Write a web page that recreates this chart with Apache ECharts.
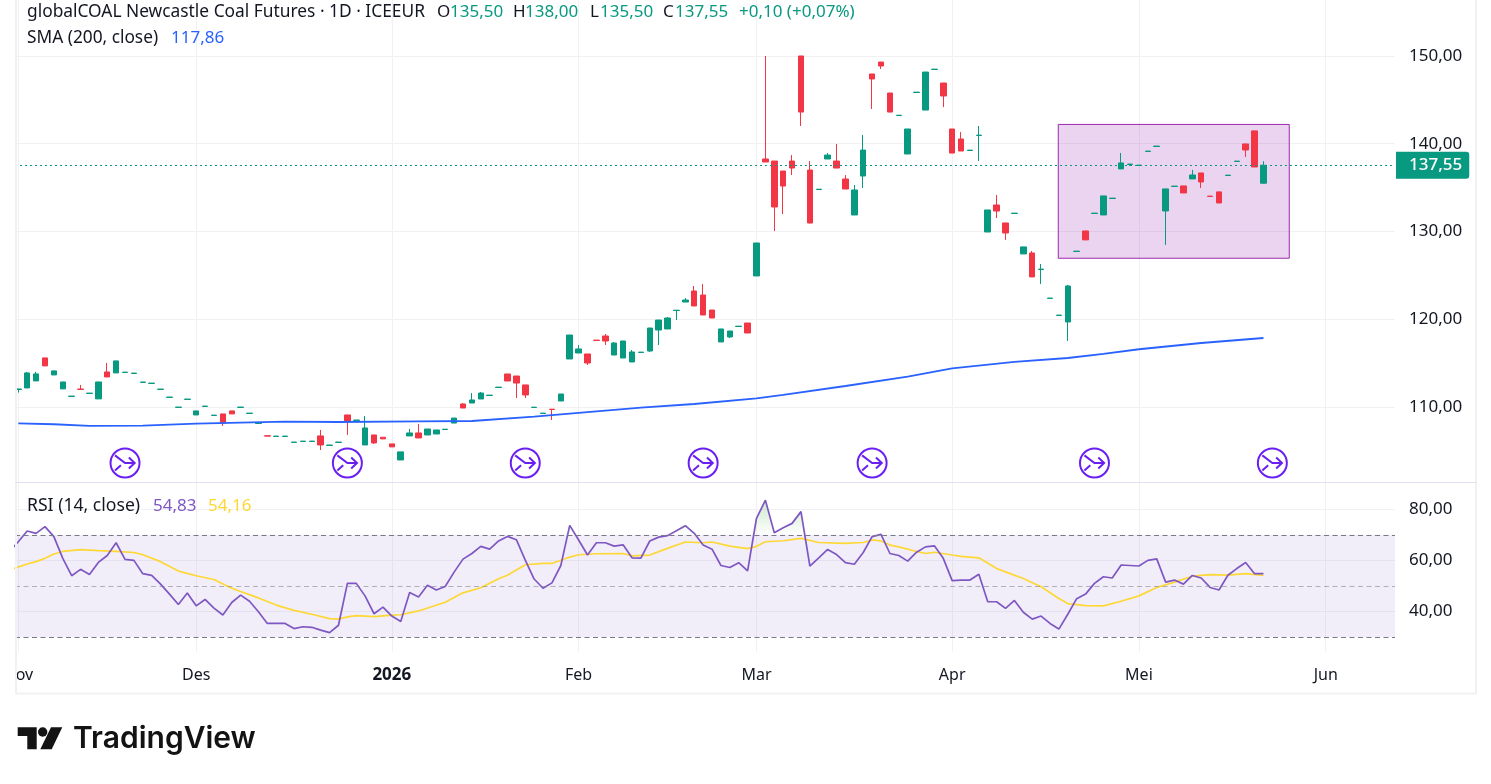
<!DOCTYPE html>
<html>
<head>
<meta charset="utf-8">
<style>html,body{margin:0;padding:0;background:#fff}#chart{width:1491px;height:784px}</style>
<script src="https://cdn.jsdelivr.net/npm/echarts@6/dist/echarts.min.js"></script>
</head>
<body>
<div id="chart"></div>
<script>
// Daily bars as [open, close, low, high]; low and high default to the body when there is no wick.
const ohlcBars = [
[112.0,112.05,111.64],[112.17,113.88,112.17,114.0],[112.97,113.77,112.97,114.0],[115.59,114.68],[113.65,114.11],
[112.06,112.85],[111.2,111.24],[112.04,112.0,112.0,112.51],[111.54,111.58],[110.92,112.85],
[113.99,113.42,113.42,115.02],[113.88,115.25],[113.93,113.97],[113.82,113.86],[112.8,112.84],
[112.68,112.72],[112.0,112.04],[111.09,111.13],[109.95,109.99],[110.86,110.9],
[109.09,109.55],[110.06,110.1],[109.03,109.07],[109.21,108.18,107.84,109.21],[109.55,109.21],
[109.95,109.99],[109.26,109.3],[108.12,108.16],[106.72,106.68],[106.64,106.68],
[106.64,106.68],[105.96,106.0],[106.07,106.11],[106.07,106.11],[106.7,105.67,105.1,107.38],
[105.62,105.66],[105.96,106.0],[109.09,108.41,106.81,109.09],[108.47,108.51],[105.67,107.61,105.67,108.98],
[106.81,105.9,105.79,106.81],[106.55,106.36],[105.79,105.45],[103.96,104.88],[106.7,107.04,106.7,107.5],
[107.04,106.47,106.47,108.07],[106.81,107.49],[106.92,107.38],[107.43,107.47],[108.17,108.74],
[110.34,109.88,109.88,110.45],[110.45,110.8,110.45,111.59],[110.91,111.59,110.91,111.71],[111.31,111.35],[112.22,112.26],
[113.76,112.96],[113.53,112.73,111.02,113.53],[112.51,111.37,111.02,112.51],[109.94,109.98],[109.26,109.3],
[109.75,109.71,108.52,109.75],[110.68,111.48],[115.47,118.2],[116.15,116.61,116.15,117.06],[116.04,115.01,114.78,116.04],
[117.62,117.58],[118.09,117.52,117.06,118.32],[115.92,117.29,115.92,117.41],[115.58,117.52],[115.13,116.27,115.13,116.49],
[116.21,116.25],[116.38,119.0,116.27,119.0],[118.77,119.91,117.06,119.91],[118.89,120.14,118.89,120.25],[120.99,121.03,119.91,121.03],
[121.96,122.19,121.96,122.42],[123.22,121.51,121.51,123.79],[122.76,120.48,120.48,124.02],[121.05,120.14],[117.41,118.89],
[117.98,118.66,117.86,118.66],[119.17,119.21],[119.57,118.43],[124.93,128.69],[138.26,137.92,137.92,150],
[138.03,132.79,130.05,138.03],[136.89,135.18,131.99,136.89],[138.03,137.23,136.43,138.71],[150,143.61,142.02,150],[137.0,130.96,130.96,138.03],
[134.78,134.82],[138.26,138.71,138.26,138.94],[138.03,137.23,137.23,139.97],[135.98,134.84,134.84,136.43],[131.88,134.73,131.88,135.3],
[136.32,139.28,134.95,140.99],[147.95,147.38,143.96,147.95],[149.31,148.86,148.52,149.31],[145.78,143.61],[143.21,143.25],
[138.83,141.68],[145.84,145.88],[143.84,148.17],[148.46,148.5],[146.92,145.44,144.18,146.92],
[141.68,138.94],[140.54,139.17,139.17,141.33],[139.23,139.27],[140.94,140.98,138.03,142.02],[129.94,132.45],
[133.02,132.33,131.53,134.16],[130.97,129.83,129.04,130.97],[132.05,132.09],[127.44,128.24],[127.55,124.82,124.82,127.78],
[125.67,125.71,124.02,126.3],[122.37,122.41],[120.43,120.47],[119.69,123.79,117.52,123.91],[127.72,127.76],
[130.06,129.04],[132.05,132.09],[131.88,134.05],[133.76,133.8],[137.13,137.81,137.13,138.95],
[137.64,137.68,137.47,137.68],[137.52,137.56],[139.12,139.16],[139.69,139.73],[132.34,134.85,128.47,134.85],
[135.13,135.17],[135.19,134.39],[135.99,136.44,135.99,137.01],[136.67,135.64,134.96,136.67],[134.03,133.99],
[134.51,133.25],[136.38,136.42],[137.98,138.02],[139.98,139.29,138.49,139.98],[141.46,137.35],
[135.5,137.55,135.5,138.0]
];

// 200-day moving average, read as [bar index, value].
const smaPoints = [
[0,108.14],[4,108.03],[8,107.84],[14,107.87],[20,108.1],[30,108.33],[36,108.29],[45,108.37],[51,108.4],
[58,108.9],[63,109.32],[70,109.93],[76,110.34],[83,110.99],[86,111.37],[93,112.39],[100,113.47],[105,114.39],
[112,115.13],[118,115.58],[122,116.04],[126,116.58],[133,117.29],[140,117.86]
];

// RSI(14) per bar, the first value belonging to the session before bar 0.
const rsiStartIndex = -1;
const rsiValues = [
63.4,67.3,71.5,70.6,73.2,69.3,60.8,54.0,56.5,54.5,59.2,61.9,66.9,60.4,60.0,54.8,54.1,50.7,46.8,42.7,47.2,42.2,44.7,41.3,38.6,
43.5,46.4,44.0,39.9,35.3,35.3,35.3,33.3,34.0,33.8,32.7,31.7,34.6,51.0,51.0,46.0,39.1,41.7,38.2,36.1,47.4,45.7,50.3,48.4,49.8,
55.4,60.5,62.7,65.5,64.4,67.6,69.4,68.1,60.1,52.7,49.1,51.2,58.0,73.7,68.0,62.1,66.9,66.9,65.6,66.1,61.0,60.9,67.6,69.1,69.7,
71.6,73.6,70.6,66.0,64.4,58.0,57.2,59.1,55.9,76.5,83.6,70.8,72.8,74.5,79.1,57.8,61.0,64.3,62.3,59.1,58.5,63.1,69.3,70.2,62.7,
61.9,59.7,63.2,65.3,65.7,60.8,52.1,52.3,52.3,54.6,43.8,43.8,41.2,44.3,39.7,37.0,38.2,35.3,33.1,38.9,45.0,46.8,51.0,53.6,53.1,
58.2,58.0,57.8,60.0,60.6,51.5,52.3,50.7,54.1,53.1,49.4,48.4,54.2,56.8,59.2,54.8,54.83
];

// Moving average of the RSI, read as [bar index, value].
const rsiMaPoints = [
[-1,56.2],[1,58.6],[2,59.5],[3,60.8],[4,62.5],[5,63.5],[7,64.2],[9,63.8],[11,63.5],[13,63.1],[14,62.2],[16,59.5],[18,55.8],
[20,54.0],[22,52.5],[24,49.1],[25,47.8],[27,45.3],[29,42.5],[31,40.4],[33,38.9],[35,37.2],[36,37.0],[37,37.9],[38,38.4],
[40,38.0],[42,38.6],[43,38.7],[45,40.2],[48,43.6],[50,47.3],[52,49.3],[54,52.8],[55,54.2],[57,58.3],[59,58.8],[60,58.8],
[62,61.3],[63,62.2],[65,62.6],[68,62.7],[69,61.8],[71,62.1],[73,64.7],[75,67.2],[77,66.9],[78,67.2],[80,65.6],[82,64.6],
[83,65.5],[84,67.3],[86,67.7],[88,68.6],[90,67.0],[93,66.7],[95,67.0],[96,68.0],[97,67.6],[98,66.0],[99,65.3],[101,63.5],
[102,62.7],[103,63.2],[105,62.1],[106,61.6],[108,61.0],[110,56.8],[111,55.5],[113,52.9],[115,49.7],[117,45.1],[118,43.1],
[120,42.3],[122,42.2],[124,44.0],[126,46.1],[128,49.4],[130,51.5],[132,53.8],[134,54.4],[136,54.2],[138,54.8],[140,54.16]
];

const monthLabels = ['Nov', 'Des', '2026', 'Feb', 'Mar', 'Apr', 'Mei', 'Jun'];
const monthBars = [0, 20, 42, 63, 83, 105, 126, 147];
const priceTicks = [110, 120, 130, 140, 150];
const rsiTicks = [40, 60, 80];
const eventBars = [12, 37, 57, 77, 96, 121, 141];
const eventLevel = 103.62;
const highlightBox = [[116.93, 142.2], [142.9, 126.95]];
const lastClose = 137.55;
const smaLast = 117.86;
const rsiLast = 54.83;
const rsiMaLast = 54.16;
const rsiBands = { upper: 70, middle: 50, lower: 30 };

const UI_FONT = '"Noto Sans"';
const INK = '#131722';
const GREEN = '#089981';
const RED = '#f23645';
const GRID_LINE = '#f1f1f4';
const fmt = v => v.toFixed(2).replace('.', ',');

const xRange = { min: -0.371, max: 154.79 };
const priceRange = { min: 101.45, max: 156.38 };
const rsiRange = { min: 24.12, max: 90.31 };

const candleData = ohlcBars.map((b, i) => {
  const [o, c, l = Math.min(o, c), h = Math.max(o, c)] = b;
  return [i, o, c, l, h];
});
const rsiData = rsiValues.map((v, i) => [i + rsiStartIndex, v]);

function monthAxis(gridIndex, showLabels) {
  return {
    type: 'value', gridIndex, ...xRange,
    axisLine: { show: false },
    axisTick: { show: false, customValues: monthBars },
    splitLine: { show: true, lineStyle: { color: GRID_LINE, width: 1 } },
    axisLabel: {
      show: showLabels, customValues: monthBars, margin: 15, hideOverlap: false,
      fontFamily: UI_FONT, fontSize: 16, color: INK,
      showMinLabel: true, showMaxLabel: true,
      formatter: v => {
        const name = monthLabels[monthBars.indexOf(v)];
        return name === '2026' ? '{year|2026}' : name;
      },
      rich: { year: { fontFamily: UI_FONT, fontSize: 17, fontWeight: 'bold', color: INK } }
    }
  };
}

function headerRun(text, x, y, fill, size) {
  return { type: 'text', z: 50, style: { text, x, y, fill, font: (size || 17) + 'px ' + UI_FONT, verticalAlign: 'middle' } };
}

const chart = echarts.init(document.getElementById('chart'), null, { renderer: 'canvas' });
chart.setOption({
  animation: false,
  backgroundColor: '#ffffff',
  grid: [
    { left: 15, top: 0, width: 1380, height: 482 },
    { left: 15, top: 483, width: 1380, height: 169 },
    { left: 15, top: 483, width: 1380, height: 51.8 }
  ],
  xAxis: [
    monthAxis(0, false),
    monthAxis(1, true),
    Object.assign(monthAxis(2, false), { splitLine: { show: false } })
  ],
  yAxis: [
    {
      type: 'value', gridIndex: 0, position: 'right', ...priceRange,
      axisLine: { show: false },
      axisTick: { show: false, customValues: priceTicks },
      splitLine: { show: true, lineStyle: { color: GRID_LINE, width: 1 } },
      axisLabel: { customValues: priceTicks, margin: 14, padding: [2, 0, 0, 0], fontFamily: UI_FONT, fontSize: 17, color: INK, formatter: fmt }
    },
    {
      type: 'value', gridIndex: 1, position: 'right', ...rsiRange,
      axisLine: { show: false },
      axisTick: { show: false, customValues: rsiTicks },
      splitLine: { show: true, lineStyle: { color: GRID_LINE, width: 1 } },
      axisLabel: { customValues: rsiTicks, margin: 14, fontFamily: UI_FONT, fontSize: 17, color: INK, formatter: fmt }
    },
    {
      type: 'value', gridIndex: 2, position: 'right', min: rsiBands.upper, max: rsiRange.max,
      axisLine: { show: false }, axisTick: { show: false }, axisLabel: { show: false }, splitLine: { show: false }
    }
  ],
  series: [
    {
      name: 'Price', type: 'candlestick', xAxisIndex: 0, yAxisIndex: 0,
      barWidth: 6,
      data: candleData,
      encode: { x: 0, y: [1, 2, 3, 4] },
      itemStyle: { color: GREEN, color0: RED, borderColor: GREEN, borderColor0: RED, borderWidth: 1 },
      markArea: {
        silent: true,
        itemStyle: { color: 'rgba(156,39,176,0.2)', borderColor: '#9c27b0', borderWidth: 1 },
        data: [[{ coord: highlightBox[0] }, { coord: highlightBox[1] }]]
      },
      markLine: {
        silent: true, symbol: 'none', animation: false,
        lineStyle: { color: GREEN, width: 1, type: [2, 3] },
        label: {
          show: true, position: 'end', distance: 1, formatter: () => fmt(lastClose),
          backgroundColor: GREEN, color: '#ffffff', fontFamily: UI_FONT, fontSize: 17, fontWeight: 500,
          height: 27, lineHeight: 27, align: 'left', padding: [0, 7, 0, 13], borderRadius: [0, 3, 3, 0]
        },
        data: [{ yAxis: lastClose }]
      }
    },
    {
      name: 'SMA', type: 'line', xAxisIndex: 0, yAxisIndex: 0, data: smaPoints,
      showSymbol: false, smooth: false, lineStyle: { color: '#2962ff', width: 1.8 }, z: 4
    },
    {
      name: 'Events', type: 'scatter', xAxisIndex: 0, yAxisIndex: 0, z: 5,
      data: eventBars.map(b => [b, eventLevel]),
      symbol: 'path://M15 1A14 14 0 1 1 14.99 1ZM5.3 7.7L15 15L24.3 15M18.7 9.7L24.3 15L18.7 20.3M5.3 22.3L11 17.3',
      symbolSize: 29,
      itemStyle: { color: 'rgba(0,0,0,0)', borderColor: '#6a1ff2', borderWidth: 2, opacity: 1 }
    },
    {
      name: 'RSI', type: 'line', xAxisIndex: 1, yAxisIndex: 1, data: rsiData, z: 4,
      showSymbol: false, lineStyle: { color: '#7e57c2', width: 1.7 },
      markArea: {
        silent: true, itemStyle: { color: 'rgba(126,87,194,0.1)' },
        data: [[{ yAxis: rsiBands.upper }, { yAxis: rsiBands.lower }]]
      },
      markLine: {
        silent: true, symbol: 'none', label: { show: false }, animation: false,
        data: [
          { yAxis: rsiBands.upper, lineStyle: { color: '#787b86', width: 1, type: [5, 3.5] } },
          { yAxis: rsiBands.middle, lineStyle: { color: 'rgba(120,123,134,0.55)', width: 1, type: [5, 3.5] } },
          { yAxis: rsiBands.lower, lineStyle: { color: '#787b86', width: 1, type: [5, 3.5] } }
        ]
      }
    },
    {
      name: 'RSI MA', type: 'line', xAxisIndex: 1, yAxisIndex: 1, data: rsiMaPoints, z: 3,
      showSymbol: false, lineStyle: { color: '#fdd835', width: 1.7 }
    },
    {
      name: 'Overbought', type: 'line', xAxisIndex: 2, yAxisIndex: 2, data: rsiData, z: 2,
      showSymbol: false, lineStyle: { width: 0, opacity: 0 },
      areaStyle: {
        origin: 'start',
        color: {
          type: 'linear', x: 0, y: 500, x2: 0, y2: 535, global: true,
          colorStops: [{ offset: 0, color: 'rgba(76,175,80,0.42)' }, { offset: 1, color: 'rgba(76,175,80,0)' }]
        }
      }
    }
  ],
  graphic: { elements: [
    // Pane frame and separator
    { type: 'rect', z: 40, shape: { x: 0, y: 656, width: 15, height: 36 }, style: { fill: '#ffffff' } },
    { type: 'polyline', z: 41, shape: { points: [[16, 0], [16, 693.5], [1476, 693.5], [1476, 0]] }, style: { fill: null, stroke: GRID_LINE, lineWidth: 2 } },
    { type: 'line', z: 41, shape: { x1: 15, y1: 482.5, x2: 1476, y2: 482.5 }, style: { stroke: '#e0e0ee', lineWidth: 1 } },
    // Legend rows
    headerRun('globalCOAL Newcastle Coal Futures · 1D · ICEEUR', 27, 12, INK, 17.35),
    headerRun('O', 437, 12, INK), headerRun(fmt(135.5), 450, 12, GREEN),
    headerRun('H', 513, 12, INK), headerRun(fmt(138), 525, 12, GREEN),
    headerRun('L', 590, 12, INK), headerRun(fmt(135.5), 600, 12, GREEN),
    headerRun('C', 663, 12, INK), headerRun(fmt(lastClose), 675, 12, GREEN),
    headerRun('+0,10 (+0,07%)', 739, 12, GREEN),
    headerRun('SMA (200, close)', 27, 38, INK, 17.3), headerRun(fmt(smaLast), 171, 38, '#2962ff'),
    headerRun('RSI (14, close)', 27, 506, INK, 17.6), headerRun(fmt(rsiLast), 153, 506, '#7e57c2'), headerRun(fmt(rsiMaLast), 208, 506, '#fdd835'),
    // Wordmark
    { type: 'polygon', z: 50, shape: { points: [[17.7, 727.3], [36.7, 727.3], [36.7, 749.3], [27.3, 749.3], [27.3, 736], [17.7, 736]] }, style: { fill: '#131313' } },
    { type: 'circle', z: 50, shape: { cx: 42.7, cy: 732, r: 4.7 }, style: { fill: '#131313' } },
    { type: 'polygon', z: 50, shape: { points: [[62.3, 727.3], [51.7, 749.3], [40.3, 749.3], [51, 727.3]] }, style: { fill: '#131313' } },
    { type: 'text', z: 50, style: { text: 'TradingView', x: 73, y: 739, fill: '#131313', font: '600 30px Inter', verticalAlign: 'middle' } }
  ] }
});
</script>
</body>
</html>
